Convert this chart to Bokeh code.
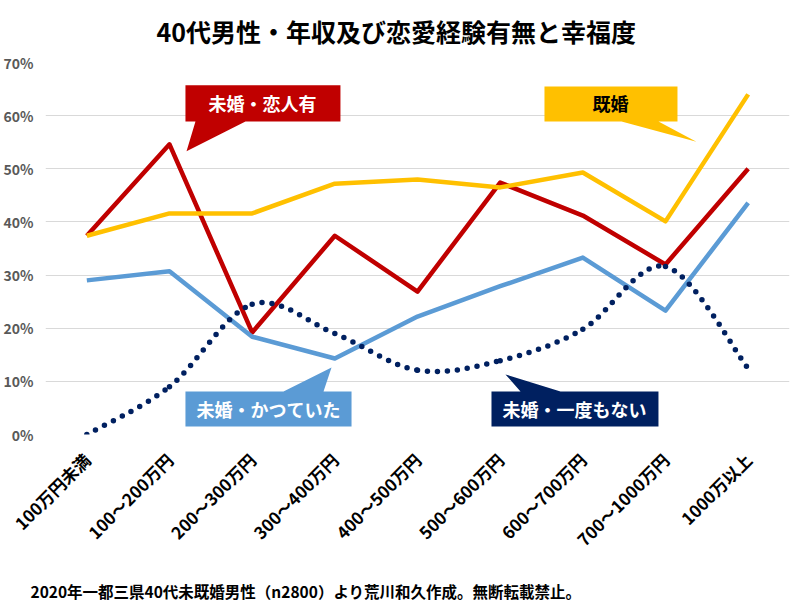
import math
from bokeh.plotting import figure
from bokeh.models import FactorRange, Range1d, Label, PrintfTickFormatter, FixedTicker, Title
from bokeh.embed import file_html
from bokeh.resources import INLINE

categories = ["100万円未満", "100～200万円", "200～300万円", "300～400万円", "400～500万円",
              "500～600万円", "600～700万円", "700～1000万円", "1000万以上"]
married = [37.4, 41.6, 41.6, 47.2, 48.0, 46.5, 49.3, 40.1, 64.0]
single_partner = [37.4, 54.6, 19.2, 37.4, 26.9, 47.4, 41.2, 32.0, 50.0]
single_before = [29.0, 30.7, 18.4, 14.3, 22.2, 27.9, 33.3, 23.3, 43.6]
single_never = [0.0, 9.0, 24.5, 19.0, 12.1, 13.9, 19.8, 31.6, 12.4]
y_ticks = [0, 10, 20, 30, 40, 50, 60, 70]

title_text = "40代男性・年収及び恋愛経験有無と幸福度"
footer_text = "2020年一都三県40代未既婚男性（n2800）より荒川和久作成。無断転載禁止。"

FONT = "Noto Sans CJK JP"
RED, YELLOW, BLUE, NAVY = "#C00000", "#FFC000", "#5B9BD5", "#002060"

p = figure(frame_width=744, frame_height=372, x_range=FactorRange(*categories), y_range=Range1d(0, 70),
           output_backend="svg", toolbar_location=None,
           min_border_left=39, min_border_right=1, min_border_top=0, min_border_bottom=0)
p.outline_line_color = None
p.background_fill_color = "white"
p.xgrid.grid_line_color = None
p.ygrid.grid_line_color = "#D9D9D9"
p.ygrid.grid_line_width = 1

p.title.text = title_text
p.title.align = "left"
p.title.offset = 111
p.title.vertical_align = "top"
p.title.text_font = FONT
p.title.text_font_style = "bold"
p.title.text_font_size = "25px"
p.title.text_color = "black"
p.title.standoff = 24

p.yaxis.ticker = FixedTicker(ticks=y_ticks)
p.yaxis.formatter = PrintfTickFormatter(format="%d%%")
for ax in (p.xaxis[0], p.yaxis[0]):
    ax.axis_line_color = None
    ax.major_tick_line_color = None
    ax.minor_tick_line_color = None
    ax.major_tick_out = 0
    ax.major_tick_in = 0
p.yaxis.major_label_text_font = FONT
p.yaxis.major_label_text_font_style = "bold"
p.yaxis.major_label_text_font_size = "14px"
p.yaxis.major_label_text_color = "#595959"
p.yaxis.major_label_standoff = 12

p.xaxis.major_label_orientation = math.pi / 4
p.xaxis.major_label_text_font = FONT
p.xaxis.major_label_text_font_style = "bold"
p.xaxis.major_label_text_font_size = "17px"
p.xaxis.major_label_text_color = "black"
p.xaxis.major_label_standoff = 22

footer = Title(text=footer_text, align="left", offset=-15, standoff=31,
               text_font=FONT, text_font_style="bold", text_font_size="15.5px", text_color="black")
p.add_layout(footer, "below")

# straight series
p.line(categories, single_partner, line_color=RED, line_width=4.5, line_join="round")
p.line(categories, married, line_color=YELLOW, line_width=4.5, line_join="round")
p.line(categories, single_before, line_color=BLUE, line_width=4.5, line_join="round")

# smoothed dotted series (Excel-like smooth line via bezier glyph)
xs = [i + 0.5 for i in range(len(categories))]
ys = single_never
n = len(xs)
x0, y0, x1, y1, cx0, cy0, cx1, cy1 = ([] for _ in range(8))
for i in range(n - 1):
    pm = (xs[max(i - 1, 0)], ys[max(i - 1, 0)])
    pa = (xs[i], ys[i])
    pb = (xs[i + 1], ys[i + 1])
    pp = (xs[min(i + 2, n - 1)], ys[min(i + 2, n - 1)])
    x0.append(pa[0]); y0.append(pa[1]); x1.append(pb[0]); y1.append(pb[1])
    cx0.append(pa[0] + (pb[0] - pm[0]) / 6); cy0.append(pa[1] + (pb[1] - pm[1]) / 6)
    cx1.append(pb[0] - (pp[0] - pa[0]) / 6); cy1.append(pb[1] - (pp[1] - pa[1]) / 6)
p.bezier(x0=x0, y0=y0, x1=x1, y1=y1, cx0=cx0, cy0=cy0, cx1=cx1, cy1=cy1,
         line_color=NAVY, line_width=5.5, line_dash="0 10", line_cap="round")


def callout(x_left, x_right, y_bot, y_top, b0, b1, tip_x, tip_y, pointer_bottom):
    if pointer_bottom:
        px = [x_left, x_right, x_right, b1, tip_x, b0, x_left]
        py = [y_top, y_top, y_bot, y_bot, tip_y, y_bot, y_bot]
    else:
        px = [x_left, b0, tip_x, b1, x_right, x_right, x_left]
        py = [y_top, y_top, tip_y, y_top, y_top, y_bot, y_bot]
    return px, py


callouts = [
    ("未婚・恋人有", RED, "white", (1.693, 3.568, 58.9, 65.7, 1.814, 2.419, 1.706, 53.3, True), (2.625, 62.3)),
    ("既婚", YELLOW, "black", (6.036, 7.645, 58.9, 65.5, 6.968, 7.415, 7.874, 55.1, True), (6.835, 62.3)),
    ("未婚・かつていた", BLUE, "white", (1.693, 3.702, 1.5, 8.1, 2.879, 3.363, 3.46, 12.6, False), (2.697, 4.75)),
    ("未婚・一度もない", NAVY, "white", (5.395, 7.415, 1.5, 8.1, 5.746, 6.23, 5.564, 11.3, False), (6.40, 4.75)),
]
for txt, fill, tcol, geo, tpos in callouts:
    px, py = callout(*geo)
    p.patch(px, py, fill_color=fill, line_color=None)
    p.add_layout(Label(x=tpos[0], y=tpos[1], text=txt, text_font=FONT, text_font_style="bold",
                       text_font_size="18px", text_color=tcol, text_align="center",
                       text_baseline="middle"))

open("out.html", "w").write(file_html(p, INLINE))
